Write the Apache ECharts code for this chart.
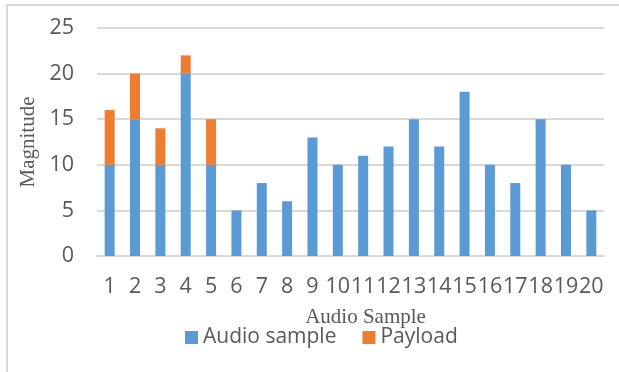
<!DOCTYPE html>
<html>
<head>
<meta charset="utf-8">
<script src="https://cdn.jsdelivr.net/npm/echarts@6/dist/echarts.min.js"></script>
<style>
html,body{margin:0;padding:0;background:#fff;}
#c{width:619px;height:372px;}
</style>
</head>
<body>
<div id="c"></div>
<script>
const categories = ['1','2','3','4','5','6','7','8','9','10','11','12','13','14','15','16','17','18','19','20'];
const audioSample = [10,15,10,20,10,5,8,6,13,10,11,12,15,12,18,10,8,15,10,5];
const payload = [6,5,4,2,5,0,0,0,0,0,0,0,0,0,0,0,0,0,0,0];
const yTicks = { min: 0, max: 25, interval: 5 };

const chart = echarts.init(document.getElementById('c'), null, { renderer: 'canvas' });
const txt = '#595959';
chart.setOption({
  animation: false,
  backgroundColor: '#fff',
  graphic: [{
    type: 'rect', silent: true,
    shape: { x: 7, y: 5, width: 640, height: 400 },
    style: { fill: 'none', stroke: '#D9D9D9', lineWidth: 2 }
  }],
  grid: { left: 97, right: 15, top: 28, bottom: 116, containLabel: false },
  legend: {
    data: ['Audio sample', 'Payload'],
    left: 185, top: 327,
    itemWidth: 13, itemHeight: 13, itemGap: 26,
    icon: 'rect',
    padding: 0,
    textStyle: { fontFamily: 'Open Sans', fontSize: 21, color: txt }
  },
  xAxis: {
    type: 'category',
    data: categories,
    name: 'Audio Sample',
    nameLocation: 'middle',
    nameGap: 51,
    nameTextStyle: { fontFamily: 'Liberation Serif', fontSize: 21, color: txt, padding: [0,0,0,30] },
    axisLine: { show: true, lineStyle: { color: '#D9D9D9', width: 2 } },
    axisTick: { show: false },
    axisLabel: { interval: 0, fontFamily: 'Open Sans', fontSize: 21.5, color: txt, margin: 20 }
  },
  yAxis: {
    type: 'value',
    min: yTicks.min, max: yTicks.max, interval: yTicks.interval,
    name: 'Magnitude',
    nameLocation: 'middle',
    nameGap: 57,
    nameTextStyle: { fontFamily: 'Liberation Serif', fontSize: 21, color: txt },
    axisLine: { show: false },
    axisTick: { show: false },
    axisLabel: { fontFamily: 'Open Sans', fontSize: 21.5, color: txt, margin: 23 },
    splitLine: { lineStyle: { color: '#D9D9D9', width: 2 } }
  },
  series: [
    { name: 'Audio sample', type: 'bar', stack: 's', data: audioSample, barWidth: 10,
      itemStyle: { color: '#5B9BD5' } },
    { name: 'Payload', type: 'bar', stack: 's', data: payload, barWidth: 10,
      itemStyle: { color: '#ED7D31' } }
  ]
});
</script>
</body>
</html>
